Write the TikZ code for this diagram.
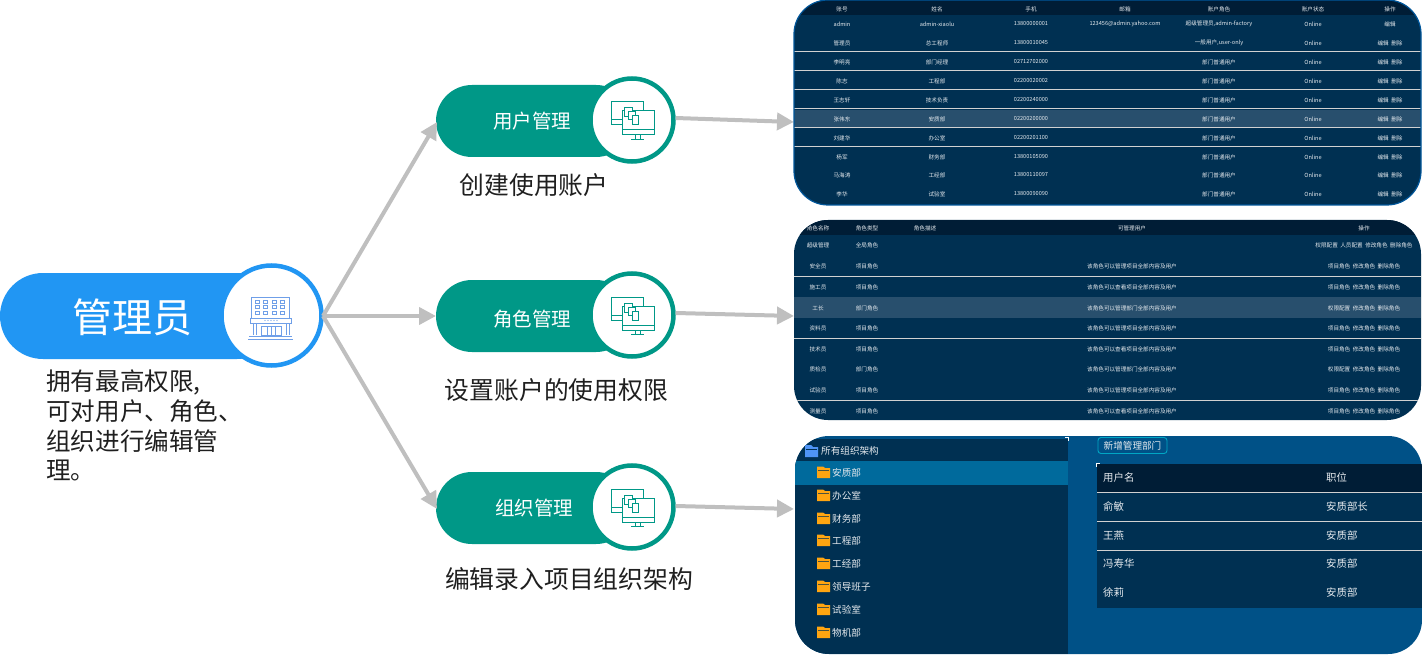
\documentclass[tikz,border=0pt]{standalone}
\usepackage{fontspec}
\setmainfont{Noto Sans CJK SC}
\usetikzlibrary{arrows.meta}
\definecolor{adminblue}{HTML}{2196F3}
\definecolor{teal1}{HTML}{009887}
\definecolor{arrowgrey}{HTML}{BFBFBF}
\definecolor{bodyblue}{HTML}{003052}
\definecolor{headblue}{HTML}{001D36}
\definecolor{rowhi}{HTML}{284F6D}
\definecolor{edgeblue}{HTML}{00569A}
\definecolor{rightblue}{HTML}{005187}
\definecolor{treehi}{HTML}{006A9C}
\definecolor{folder}{HTML}{FFA511}
\definecolor{folderblue}{HTML}{4F94F5}
\definecolor{iconblue}{HTML}{6F9FE8}
\definecolor{celltext}{HTML}{E6EAEE}
\definecolor{inktext}{HTML}{1F1F1F}
\newcommand{\fpx}[1]{\fontsize{#1}{#1}\selectfont}
\tikzset{
  x=1pt,y=-1pt,
  flow/.style={draw=arrowgrey,line width=4pt,-{Triangle[length=17pt,width=17pt]},shorten >=0pt},
  pill/.style={fill=#1,rounded corners=36pt,inner sep=0pt,outer sep=0pt,anchor=north west},
  ring/.style={circle,fill=white,draw=#1,line width=4.5pt,inner sep=0pt,outer sep=2.2pt},
  pilllabel/.style={text=white,font=\fpx{19.5},inner sep=0pt},
  caption/.style={text=inktext,font=\fpx{24.8},inner sep=0pt},
  panelbox/.style={anchor=north west,inner sep=0pt,outer sep=0pt,rounded corners=34pt,minimum width=627pt},
  cell/.style={text=celltext,font=\fpx{5.6},inner sep=0pt},
  rowline/.style={draw=white!82!black,line width=1pt},
  treetext/.style={text=celltext,font=\fpx{9.6},inner sep=0pt,anchor=west},
  tabletext/.style={text=celltext,font=\fpx{10.4},inner sep=0pt,anchor=west},
  monitoricon/.pic={
    \begin{scope}[draw=teal1,line width=1pt]
      \draw (-9,5) -- (-21,5) -- (-21,-18) -- (11,-18) -- (11,-9);
      \draw (-21,0) -- (-10,0);
      \draw[fill=white] (-10,-9) rectangle (22,15);
      \draw (-10,10) -- (22,10);
      \draw (3,15) -- (3,19) (8,15) -- (8,19) (-1,19.5) -- (12,19.5);
      \draw[fill=white] (-8,-12) rectangle (0,-3);
      \draw[fill=white] (-4,-8) rectangle (3,0);
      \draw[fill=white] (0,-4) rectangle (6,5);
    \end{scope}
  },
  buildingicon/.pic={
    \begin{scope}[draw=iconblue,line width=1pt]
      \draw (-20,2) -- (-20,-19) -- (18,-19) -- (18,2);
      \foreach \wx in {-14,-5.5,3,11}
        \foreach \wy in {-14,-9,-3.5}
          \draw[line width=.8pt] (\wx-2,\wy-1.5) rectangle (\wx+2,\wy+1.5);
      \draw (-21,2) rectangle (20,7);
      \draw (-18,7) -- (-18,19) (-15,7) -- (-15,19) (15,7) -- (15,19) (18,7) -- (18,19);
      \draw (-10,10) rectangle (10,19);
      \draw (-4,10) -- (-4,19) (0,10) -- (0,19) (4,10) -- (4,19);
      \draw (-22,20) -- (21,20) (-23,23) -- (22,23);
      \foreach \dx in {-6,-3,0,3,6} \fill[iconblue] (\dx,4.5) circle (.6);
    \end{scope}
  },
}
\begin{document}
\begin{tikzpicture}
\useasboundingbox (0,0) rectangle (1422,655);

% ---------- left: administrator
\node (adminbar) [pill=adminblue,minimum width=280pt,minimum height=86pt,rounded corners=43pt] at (0,273) {};
\node (admin) [ring=adminblue,minimum size=100pt] at (271.5,315.5) {};
\pic at (271,316) {buildingicon};
\node (admintitle) [text=white,font=\fpx{40},inner sep=0pt] at (132,317) {管理员};
\node (admindesc) [text=inktext,font=\fontsize{24.6}{29.6}\selectfont,inner sep=0pt,anchor=north west,align=left] at (46,370)
  {拥有最高权限,\\可对用户、角色、\\组织进行编辑管\\理。};

% ---------- middle: three functions
\node (userpill) [pill=teal1,minimum width=196pt,minimum height=72pt] at (436,85) {};
\node (rolepill) [pill=teal1,minimum width=196pt,minimum height=72pt] at (436,280) {};
\node (orgpill)  [pill=teal1,minimum width=196pt,minimum height=72pt] at (436,472) {};
\node (userring) [ring=teal1,minimum size=83pt] at (632,120) {};
\node (rolering) [ring=teal1,minimum size=83pt] at (632,315) {};
\node (orgring)  [ring=teal1,minimum size=83pt] at (632,507) {};
\pic at (632,120) {monitoricon};
\pic at (632,315) {monitoricon};
\pic at (632,507) {monitoricon};
\node (userlabel) [pilllabel] at (532,121) {用户管理};
\node (rolelabel) [pilllabel] at (532,319) {角色管理};
\node (orglabel)  [pilllabel] at (534,508) {组织管理};
\node (usercap) [caption] at (534,185) {创建使用账户};
\node (rolecap) [caption] at (556.5,390) {设置账户的使用权限};
\node (orgcap)  [caption] at (569,579) {编辑录入项目组织架构};

% ---------- arrows
\coordinate (tone) at (794,122);
\coordinate (ttwo) at (794,316);
\coordinate (tthree) at (794,509);
\coordinate (aone) at (437,122);
\coordinate (atwo) at (436,316);
\coordinate (athree) at (437,509);
\coordinate (hub) at (323,316);
\draw[flow] (hub) -- (aone);
\draw[flow] (hub) -- (atwo);
\draw[flow] (hub) -- (athree);
\draw[flow] (userring.east) ++(0,-2) -- (tone);
\draw[flow] (rolering.east) ++(0,-2) -- (ttwo);
\draw[flow] (orgring.east) ++(0,-1) -- (tthree);

% ---------- panel 1: user table
\node (panelone) [panelbox,fill=bodyblue,minimum height=205pt] at (794,0) {};
\begin{scope}
  \clip[rounded corners=34pt] (794,0) rectangle (1421,205);
  \fill[headblue] (794,0) rectangle (1421,15);
  \fill[rowhi] (794,110) rectangle (1421,128);
  \foreach \ly in {52,71,90,109,128,147}
    \draw[rowline] (794,\ly) -- (1421,\ly);
  \foreach \cx/\ct in {842/账号,937/姓名,1031/手机,1125/邮箱,1219/账户角色,1313/账户状态,1390/操作}
    \node[cell] at (\cx,9) {\ct};
  \node[cell] at (842,24) {admin};
  \node[cell] at (937,24) {admin-xiaolu};
  \node[cell] at (1031,24) {13800000001};
  \node[cell] at (1125,24) {123456@admin.yahoo.com};
  \node[cell] at (1219,24) {超级管理员,admin-factory};
  \node[cell] at (1313,24) {Online};
  \node[cell] at (1390,24) {编辑};
  \node[cell] at (842,43) {管理员};
  \node[cell] at (937,43) {总工程师};
  \node[cell] at (1031,43) {13800010045};
  \node[cell] at (1219,43) {一般用户,user-only};
  \node[cell] at (1313,43) {Online};
  \node[cell] at (1390,43) {编辑 \ 删除};
  \foreach \ry/\rname/\rnick/\rtel in {62/李明亮/部门经理/02712702000,81/陈志/工程部/02200020002,100/王志轩/技术负责/02200240000,119/张伟东/安质部/02200200000,138/刘建华/办公室/02200201100}{
    \node[cell] at (842,\ry) {\rname};
    \node[cell] at (937,\ry) {\rnick};
    \node[cell] at (1031,\ry) {\rtel};
    \node[cell] at (1219,\ry) {部门普通用户};
    \node[cell] at (1313,\ry) {Online};
    \node[cell] at (1390,\ry) {编辑 \ 删除};
  }
  \foreach \ry/\rname/\rnick/\rtel in {157/杨军/财务部/13800105090,175/马海涛/工经部/13800110097,194/李华/试验室/13800090090}{
    \node[cell] at (842,\ry) {\rname};
    \node[cell] at (937,\ry) {\rnick};
    \node[cell] at (1031,\ry) {\rtel};
    \node[cell] at (1219,\ry) {部门普通用户};
    \node[cell] at (1313,\ry) {Online};
    \node[cell] at (1390,\ry) {编辑 \ 删除};
  }
\end{scope}
\draw[edgeblue,line width=1.2pt,rounded corners=34pt] (794,0) rectangle (1421,205);

% ---------- panel 2: role table
\node (paneltwo) [panelbox,fill=bodyblue,minimum height=200pt] at (794,220) {};
\begin{scope}
  \clip[rounded corners=34pt] (794,220) rectangle (1421,420);
  \fill[headblue] (794,220) rectangle (1421,235);
  \fill[rowhi] (794,297) rectangle (1421,318);
  \foreach \ly in {276,338,400}
    \draw[rowline] (794,\ly) -- (1421,\ly);
  \foreach \cx/\ct in {818/角色名称,867/角色类型,925/角色描述,1132/可管理用户,1364/操作}
    \node[cell] at (\cx,228) {\ct};
  \node[cell] at (818,245) {超级管理};
  \node[cell] at (867,245) {全局角色};
  \node[cell] at (1364,245) {权限配置 \ 人员配置 \ 修改角色 \ 删除角色};
  \foreach \ry/\rname/\rtype/\rusers/\rops in {
    266/安全员/项目角色/该角色可以管理项目全部内容及用户/项目角色 \ 修改角色 \ 删除角色,
    287/施工员/项目角色/该角色可以查看项目全部内容及用户/项目角色 \ 修改角色 \ 删除角色,
    308/工长/部门角色/该角色可以管理部门全部内容及用户/权限配置 \ 修改角色 \ 删除角色,
    328/资料员/项目角色/该角色可以管理项目全部内容及用户/项目角色 \ 修改角色 \ 删除角色,
    349/技术员/项目角色/该角色可以查看项目全部内容及用户/项目角色 \ 修改角色 \ 删除角色,
    369/质检员/部门角色/该角色可以管理部门全部内容及用户/权限配置 \ 修改角色 \ 删除角色,
    390/试验员/项目角色/该角色可以管理项目全部内容及用户/项目角色 \ 修改角色 \ 删除角色,
    411/测量员/项目角色/该角色可以查看项目全部内容及用户/项目角色 \ 修改角色 \ 删除角色}{
    \node[cell] at (818,\ry) {\rname};
    \node[cell] at (867,\ry) {\rtype};
    \node[cell] at (1132,\ry) {\rusers};
    \node[cell] at (1364,\ry) {\rops};
  }
\end{scope}

% ---------- panel 3: organisation tree
\node (panelthree) [panelbox,fill=rightblue,minimum height=218pt] at (795,436) {};
\begin{scope}
  \clip[rounded corners=34pt] (795,436) rectangle (1422,654);
  \fill[bodyblue] (795,439) rectangle (1068,654);
  \fill[treehi] (795,461) rectangle (1068,485);
  % root folder
  \fill[folderblue] (805,447) -- (805,445) -- (811,445) -- (813,447) -- (818,447) -- (818,457) -- (805,457) -- cycle;
  \draw[bodyblue,line width=.6pt] (806,449.5) -- (817,449.5);
  \foreach \fy/\fname in {473/安质部,496/办公室,519/财务部,541/工程部,564/工经部,587/领导班子,610/试验室,633/物机部}{
    \fill[folder] (817,\fy-5) -- (817,\fy-6.5) -- (823,\fy-6.5) -- (825,\fy-5) -- (830,\fy-5) -- (830,\fy+5) -- (817,\fy+5) -- cycle;
    \draw[bodyblue!70!folder,line width=.7pt] (818,\fy-2.5) -- (829,\fy-2.5);
    \node[treetext] at (832,\fy) {\fname};
  }
  \node[treetext] at (821,451) {所有组织架构};
  % right table
  \fill[bodyblue] (1097,464) rectangle (1422,608);
  \fill[headblue] (1097,464) rectangle (1422,492);
  \foreach \ly in {492,521,550}
    \draw[rowline] (1097,\ly) -- (1422,\ly);
  \foreach \ry/\rleft/\rright in {478/用户名/职位,507/俞敏/安质部长,536/王燕/安质部,564/冯寿华/安质部,593/徐莉/安质部}{
    \node[tabletext] at (1103,\ry) {\rleft};
    \node[tabletext] at (1326,\ry) {\rright};
  }
\end{scope}
\node (newdept) [draw=treehi!60!cyan,fill=rightblue,line width=.9pt,rounded corners=3pt,minimum width=69pt,minimum height=16pt,inner sep=0pt,text=celltext,font=\fpx{9.6}] at (1132.5,445.5) {新增管理部门};
\draw[white,line width=1.2pt] (1065,437.5) -- (1068.5,437.5) -- (1068.5,441);
\draw[white,line width=1.2pt] (1096.5,467) -- (1096.5,463.5) -- (1100,463.5);
\end{tikzpicture}
\end{document}
